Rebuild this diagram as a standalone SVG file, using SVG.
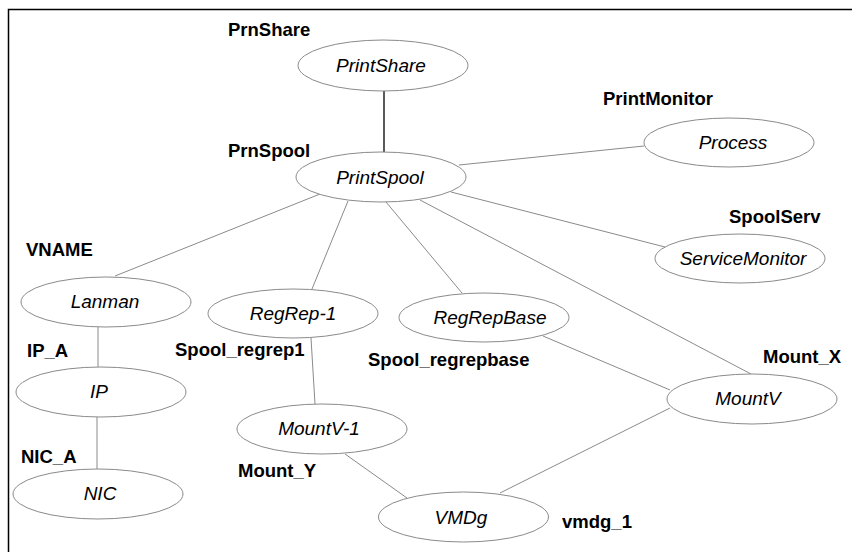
<svg xmlns="http://www.w3.org/2000/svg" width="852" height="552" viewBox="0 0 852 552">
<style>
.frame{fill:none;stroke:#000;stroke-width:1.5}
.node ellipse{fill:#fff;stroke:#8a8a8a;stroke-width:1}
.node text.n{font-family:"Liberation Sans",Arial,sans-serif;font-style:italic;font-size:19px;fill:#000;text-anchor:middle}
.node text.l{font-family:"Liberation Sans",Arial,sans-serif;font-weight:bold;font-size:18.5px;fill:#000}
#edges line{stroke:#8a8a8a;stroke-width:1}
#edges line.dark{stroke:#000;stroke-width:1.3}
</style>
<rect width="852" height="552" fill="#fff"/>
<path class="frame" d="M8.5,552 V9.5 H852"/>
<g id="edges">
<line class="dark" x1="384" y1="91" x2="384" y2="152"/>
<line x1="459" y1="165" x2="644" y2="146"/>
<line x1="451" y1="192" x2="665" y2="247"/>
<line x1="320" y1="194" x2="115" y2="276"/>
<line x1="348" y1="201" x2="312" y2="289"/>
<line x1="386" y1="202" x2="462" y2="293"/>
<line x1="420" y1="200" x2="751" y2="374"/>
<line x1="98" y1="327" x2="98" y2="367"/>
<line x1="97" y1="417" x2="97" y2="469"/>
<line x1="311" y1="338" x2="315" y2="404"/>
<line x1="345" y1="454" x2="407" y2="498"/>
<line x1="543" y1="336" x2="670" y2="390"/>
<line x1="670" y1="408" x2="500" y2="493"/>
</g>
<g id="n_PrintShare" class="node">
<ellipse cx="383" cy="65.5" rx="85" ry="25.5"/>
<text class="n" x="381" y="72">PrintShare</text>
<text class="l" x="228" y="36">PrnShare</text>
</g>
<g id="n_PrintSpool" class="node">
<ellipse cx="381" cy="177" rx="85" ry="25"/>
<text class="n" x="380" y="184">PrintSpool</text>
<text class="l" x="228" y="157">PrnSpool</text>
</g>
<g id="n_Process" class="node">
<ellipse cx="729" cy="142.5" rx="85" ry="24.5"/>
<text class="n" x="733" y="149">Process</text>
<text class="l" x="603" y="105">PrintMonitor</text>
</g>
<g id="n_ServiceMonitor" class="node">
<ellipse cx="740" cy="258.5" rx="85" ry="24.5"/>
<text class="n" x="743" y="265">ServiceMonitor</text>
<text class="l" x="729" y="223">SpoolServ</text>
</g>
<g id="n_Lanman" class="node">
<ellipse cx="106" cy="302" rx="85" ry="25"/>
<text class="n" x="105" y="308">Lanman</text>
<text class="l" x="26" y="256">VNAME</text>
</g>
<g id="n_RegRep1" class="node">
<ellipse cx="293" cy="313.5" rx="85" ry="24.5"/>
<text class="n" x="293" y="320">RegRep-1</text>
<text class="l" x="175" y="356">Spool_regrep1</text>
</g>
<g id="n_RegRepBase" class="node">
<ellipse cx="484" cy="317.5" rx="85" ry="24.5"/>
<text class="n" x="490" y="324">RegRepBase</text>
<text class="l" x="368" y="366">Spool_regrepbase</text>
</g>
<g id="n_IP" class="node">
<ellipse cx="101" cy="392" rx="85" ry="25"/>
<text class="n" x="99" y="398">IP</text>
<text class="l" x="27" y="357">IP_A</text>
</g>
<g id="n_MountV1" class="node">
<ellipse cx="322" cy="429" rx="85" ry="25"/>
<text class="n" x="319" y="435">MountV-1</text>
<text class="l" x="238" y="477">Mount_Y</text>
</g>
<g id="n_MountV" class="node">
<ellipse cx="752" cy="399" rx="85" ry="25"/>
<text class="n" x="748" y="405">MountV</text>
<text class="l" x="763" y="363">Mount_X</text>
</g>
<g id="n_NIC" class="node">
<ellipse cx="98" cy="494" rx="85" ry="25"/>
<text class="n" x="100" y="500">NIC</text>
<text class="l" x="21" y="463">NIC_A</text>
</g>
<g id="n_VMDg" class="node">
<ellipse cx="463.5" cy="517" rx="85" ry="25"/>
<text class="n" x="461" y="524">VMDg</text>
<text class="l" x="562" y="528">vmdg_1</text>
</g>
</svg>
